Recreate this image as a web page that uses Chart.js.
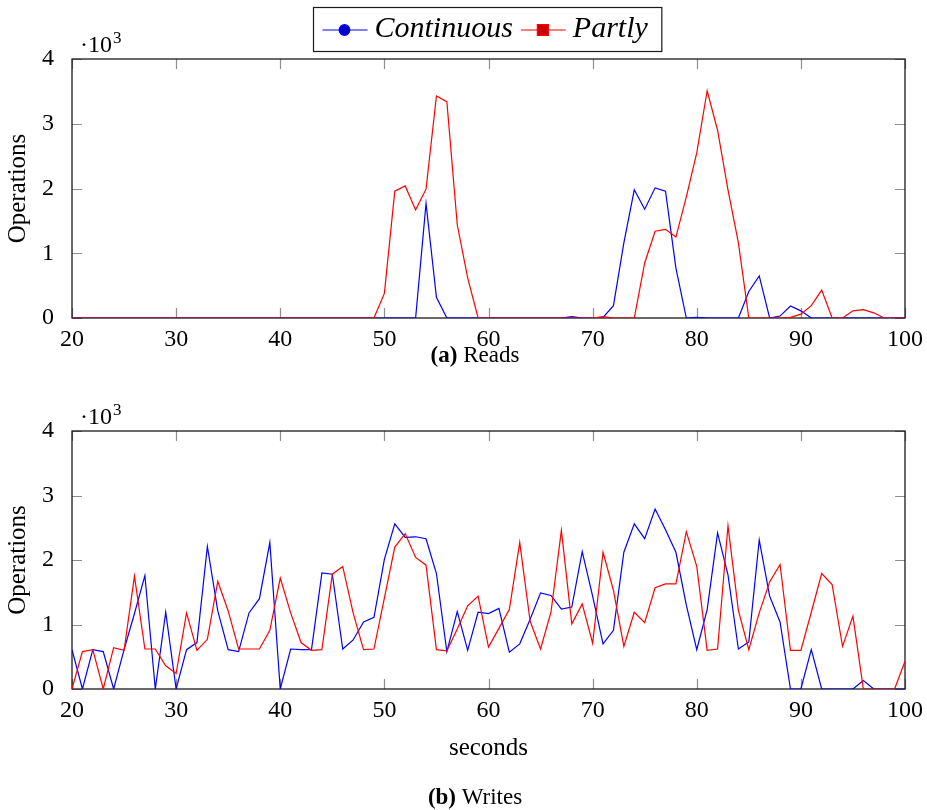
<!DOCTYPE html>
<html>
<head>
<meta charset="utf-8">
<title>Reads and writes per second</title>
<script src="https://cdn.jsdelivr.net/npm/chart.js@4.4.1/dist/chart.umd.min.js"></script>
<style>
    html, body { margin: 0; padding: 0; background: #fff; }
    #page { position: relative; width: 927px; height: 810px; }
    #page canvas { position: absolute; left: 0; }
    #reads { top: 0; }
    #writes { top: 372px; }
</style>
</head>
<body>
<div id="page">
    <canvas id="reads" width="927" height="372"></canvas>
    <canvas id="writes" width="927" height="438"></canvas>
</div>
<script>
/* ---------- Data: operations per second ---------- */
const seconds = [
    20, 21, 22, 23, 24, 25, 26, 27, 28, 29,
    30, 31, 32, 33, 34, 35, 36, 37, 38, 39,
    40, 41, 42, 43, 44, 45, 46, 47, 48, 49,
    50, 51, 52, 53, 54, 55, 56, 57, 58, 59,
    60, 61, 62, 63, 64, 65, 66, 67, 68, 69,
    70, 71, 72, 73, 74, 75, 76, 77, 78, 79,
    80, 81, 82, 83, 84, 85, 86, 87, 88, 89,
    90, 91, 92, 93, 94, 95, 96, 97, 98, 99,
    100
];

const readsContinuous = [
    0, 0, 0, 0, 0, 0, 0, 0, 0, 0,
    0, 0, 0, 0, 0, 0, 0, 0, 0, 0,
    0, 0, 0, 0, 0, 0, 0, 0, 0, 0,
    0, 0, 0, 0, 1770, 320, 0, 0, 0, 0,
    0, 0, 0, 0, 0, 0, 0, 0, 20, 0,
    0, 10, 190, 1160, 1980, 1680, 2010, 1960, 770, 0,
    10, 0, 0, 0, 0, 410, 650, 0, 30, 185,
    110, 0, 0, 0, 0, 0, 0, 0, 0, 0,
    0
];

const readsPartly = [
    0, 0, 0, 0, 0, 0, 0, 0, 0, 0,
    0, 0, 0, 0, 0, 0, 0, 0, 0, 0,
    0, 0, 0, 0, 0, 0, 0, 0, 0, 0,
    380, 1960, 2040, 1670, 1990, 3430, 3340, 1440, 620, 0,
    0, 0, 0, 0, 0, 0, 0, 0, 0, 0,
    0, 20, 0, 0, 0, 850, 1340, 1370, 1250, 1870,
    2550, 3510, 2900, 1980, 1160, 0, 0, 0, 0, 10,
    60, 190, 430, 0, 0, 110, 130, 80, 0, 0,
    0
];

const writesContinuous = [
    610, 0, 610, 580, 0, 610, 1170, 1760, 0, 1190,
    0, 610, 720, 2210, 1210, 610, 580, 1180, 1400, 2270,
    0, 620, 610, 610, 1800, 1780, 620, 760, 1040, 1110,
    2010, 2560, 2350, 2360, 2330, 1790, 580, 1200, 600, 1190,
    1170, 1250, 570, 700, 1080, 1490, 1450, 1240, 1270, 2130,
    1440, 700, 910, 2120, 2560, 2330, 2790, 2470, 2120, 1300,
    610, 1230, 2420, 1770, 620, 730, 2310, 1440, 1040, 0,
    0, 610, 0, 0, 0, 0, 130, 0, 0, 0,
    0
];

const writesPartly = [
    0, 580, 610, 0, 640, 600, 1750, 620, 620, 360,
    240, 1180, 600, 770, 1670, 1210, 620, 620, 620, 910,
    1720, 1180, 720, 600, 610, 1780, 1900, 1180, 610, 620,
    1410, 2200, 2410, 2040, 1920, 610, 590, 930, 1290, 1440,
    650, 940, 1230, 2270, 1050, 620, 1190, 2460, 1010, 1320,
    710, 2120, 1530, 660, 1190, 1030, 1570, 1630, 1630, 2440,
    1900, 600, 620, 2530, 1220, 610, 1180, 1660, 1930, 600,
    600, 1190, 1790, 1620, 660, 1130, 0, 0, 0, 0,
    430
];

const yTicks = [0, 1000, 2000, 3000, 4000];

/* ---------- Shared styling ---------- */
const SERIF = '"Liberation Serif", "Times New Roman", serif';
const BLUE = '#0000ff';
const RED = '#ff0000';
const TICK_LEN = 10;

function toPoints(values) {
    return seconds.map((s, i) => ({ x: s, y: values[i] }));
}

/* ---------- Frame, inward ticks, scale label, caption, legend ---------- */
const plotFrame = {
    id: 'plotFrame',
    beforeDatasetsDraw(chart) {
        const { ctx, chartArea: a, scales: { x, y } } = chart;
        ctx.save();
        ctx.strokeStyle = '#8e8e8e';
        ctx.lineWidth = 1.2;
        ctx.beginPath();
        x.ticks.forEach(t => {
            const px = Math.round(x.getPixelForValue(t.value)) + 0.5;
            ctx.moveTo(px, a.top);
            ctx.lineTo(px, a.top + TICK_LEN);
            ctx.moveTo(px, a.bottom);
            ctx.lineTo(px, a.bottom - TICK_LEN);
        });
        y.ticks.forEach(t => {
            const py = Math.round(y.getPixelForValue(t.value)) + 0.5;
            ctx.moveTo(a.left, py);
            ctx.lineTo(a.left + TICK_LEN, py);
            ctx.moveTo(a.right, py);
            ctx.lineTo(a.right - TICK_LEN, py);
        });
        ctx.stroke();

        ctx.strokeStyle = '#1a1a1a';
        ctx.lineWidth = 1.3;
        ctx.strokeRect(a.left, a.top, a.right - a.left, a.bottom - a.top);
        ctx.restore();
    },
    afterDraw(chart, args, opts) {
        const { ctx, chartArea: a } = chart;
        ctx.save();
        ctx.fillStyle = '#000';
        ctx.textBaseline = 'alphabetic';
        ctx.textAlign = 'left';

        // multiplier above the y axis
        ctx.font = `24px ${SERIF}`;
        const base = '\u00b710';
        const bx = a.left + 8;
        ctx.fillText(base, bx, a.top - 7);
        const bw = ctx.measureText(base).width;
        ctx.font = `17px ${SERIF}`;
        ctx.fillText('3', bx + bw + 1, a.top - 16);

        // sub-figure caption
        if (opts.caption) {
            const [tag, text] = opts.caption;
            ctx.font = `bold 23px ${SERIF}`;
            const tw = ctx.measureText(tag).width;
            ctx.font = `23px ${SERIF}`;
            const rw = ctx.measureText(' ' + text).width;
            const cx = 475 - (tw + rw) / 2;
            ctx.font = `bold 23px ${SERIF}`;
            ctx.fillText(tag, cx, opts.captionY);
            ctx.font = `23px ${SERIF}`;
            ctx.fillText(' ' + text, cx + tw, opts.captionY);
        }

        if (opts.legend) drawLegend(chart);
        ctx.restore();
    }
};

function drawLegend(chart) {
    const ctx = chart.ctx;
    const top = 7.5, height = 44, midY = 30, baseY = 37;
    const left = 313.5;
    let cursor = left + 9;

    ctx.font = `italic 30px ${SERIF}`;
    const items = chart.data.datasets.map(ds => ({
        ds,
        width: ctx.measureText(ds.label).width
    }));

    items.forEach(({ ds, width }) => {
        // sample line with marker
        ctx.strokeStyle = ds.borderColor;
        ctx.lineWidth = 1.2;
        ctx.beginPath();
        ctx.moveTo(cursor, midY);
        ctx.lineTo(cursor + 45, midY);
        ctx.stroke();

        const mx = cursor + 22;
        ctx.fillStyle = ds.markFill;
        ctx.beginPath();
        if (ds.mark === 'square') {
            ctx.rect(mx - 5.5, midY - 5.5, 11, 11);
        } else {
            ctx.arc(mx, midY, 5.3, 0, Math.PI * 2);
        }
        ctx.fill();
        ctx.stroke();

        ctx.fillStyle = '#000';
        ctx.fillText(ds.label, cursor + 52, baseY);
        cursor += 52 + width + 8;
    });

    ctx.strokeStyle = '#1a1a1a';
    ctx.lineWidth = 1.2;
    ctx.strokeRect(left, top, cursor - 8 + 14 - left, height);
}

/* ---------- Chart builder ---------- */
function buildChart(canvasId, continuous, partly, cfg) {
    const canvas = document.getElementById(canvasId);
    const axisHeight = canvas.height - cfg.plotBottom;

    return new Chart(canvas, {
        type: 'line',
        data: {
            datasets: [
                {
                    label: 'Continuous',
                    data: toPoints(continuous),
                    borderColor: BLUE,
                    markFill: '#0000cc',
                    mark: 'circle',
                    borderWidth: 1.2,
                    pointRadius: 0,
                    order: 1
                },
                {
                    label: 'Partly',
                    data: toPoints(partly),
                    borderColor: RED,
                    markFill: '#cc0000',
                    mark: 'square',
                    borderWidth: 1.2,
                    pointRadius: 0,
                    order: 0
                }
            ]
        },
        options: {
            responsive: false,
            animation: false,
            events: [],
            layout: { padding: { top: 59, right: 22, left: 0, bottom: 0 } },
            plugins: {
                legend: { display: false },
                tooltip: { enabled: false },
                plotFrame: {
                    legend: cfg.legend,
                    caption: cfg.caption,
                    captionY: cfg.captionY
                }
            },
            scales: {
                x: {
                    type: 'linear',
                    min: 20,
                    max: 100,
                    grid: { display: false },
                    border: { display: false },
                    ticks: {
                        stepSize: 10,
                        padding: -1,
                        color: '#000',
                        font: { family: SERIF, size: 24 },
                        maxRotation: 0
                    },
                    title: {
                        display: !!cfg.xTitle,
                        text: cfg.xTitle || '',
                        color: '#000',
                        font: { family: SERIF, size: 25 },
                        padding: { top: 0, bottom: 47 }
                    },
                    afterFit(scale) { scale.height = axisHeight; }
                },
                y: {
                    min: 0,
                    max: 4000,
                    afterBuildTicks(scale) {
                        scale.ticks = yTicks.map(v => ({ value: v }));
                    },
                    grid: { display: false },
                    border: { display: false },
                    ticks: {
                        padding: 10,
                        color: '#000',
                        font: { family: SERIF, size: 24 },
                        callback: v => String(v / 1000)
                    },
                    title: {
                        display: true,
                        text: 'Operations',
                        color: '#000',
                        font: { family: SERIF, size: 25 },
                        padding: { top: 3, bottom: 0 }
                    },
                    afterFit(scale) { scale.width = 72; }
                }
            }
        },
        plugins: [plotFrame]
    });
}

buildChart('reads', readsContinuous, readsPartly, {
    plotBottom: 318,
    legend: true,
    caption: ['(a)', 'Reads'],
    captionY: 362
});

buildChart('writes', writesContinuous, writesPartly, {
    plotBottom: 317,
    xTitle: 'seconds',
    caption: ['(b)', 'Writes'],
    captionY: 432
});
</script>
</body>
</html>
